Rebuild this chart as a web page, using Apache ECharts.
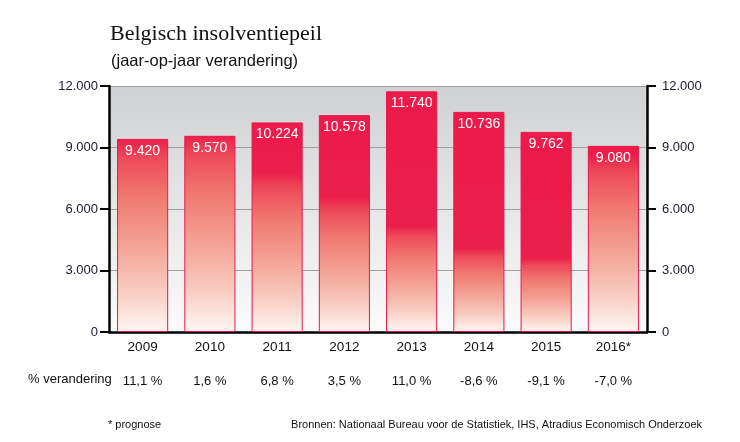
<!DOCTYPE html>
<html>
<head>
<meta charset="utf-8">
<script src="https://cdn.jsdelivr.net/npm/echarts@6/dist/echarts.min.js"></script>
<style>html,body{margin:0;padding:0;background:#fff}#c{width:740px;height:442px}</style>
</head>
<body>
<div id="c"></div>
<script>
const years = ['2009','2010','2011','2012','2013','2014','2015','2016*'];
const insolvencies = [9420, 9570, 10224, 10578, 11740, 10736, 9762, 9080];
const pctChange = ['11,1 %','1,6 %','6,8 %','3,5 %','11,0 %','-8,6 %','-9,1 %','-7,0 %'];
const yTicks = [0, 3000, 6000, 9000, 12000];

// style: fraction of each bar (from top) that stays solid red before fading
const fadeStart = [0, 0, 0.24, 0.38, 0.56, 0.62, 0.63, 0.05];

function fmt(v){ return String(v).replace(/\B(?=(\d{3})+(?!\d))/g, '.'); }

const fadeStops = [[0,'#EA1F4A'],[0.1,'#EE4A59'],[0.3,'#F07970'],[0.55,'#F4A295'],[0.8,'#F9CEC3'],[1,'#FFF7F4']];
function barGradient(f){
  const stops = [];
  if (f > 0) stops.push({offset:0, color:'#ED1A4A'});
  fadeStops.forEach(s => stops.push({offset: f + (1-f)*s[0], color: s[1]}));
  return new echarts.graphic.LinearGradient(0,0,0,1,stops);
}

const font = '"Liberation Sans",sans-serif';
const chart = echarts.init(document.getElementById('c'), null, {renderer:'canvas'});
const yAxisCommon = {
  type:'value', min:yTicks[0], max:yTicks[yTicks.length-1], interval:3000,
  axisLine:{show:true, lineStyle:{color:'#000', width:2.5}},
  axisTick:{show:true, inside:false, length:9, lineStyle:{color:'#000', width:2}},
  axisLabel:{formatter:fmt, color:'#1a1a2e', fontSize:13, fontFamily:font, margin:11},
  splitLine:{show:true, lineStyle:{color:'#9e9e9e', width:1}}
};
chart.setOption({
  animation:false,
  title:[
    {text:'Belgisch insolventiepeil', left:105, top:18, textStyle:{fontFamily:'"Liberation Serif",serif', fontWeight:'normal', fontSize:22, color:'#111'}},
    {text:'(jaar-op-jaar verandering)', left:106, top:48, textStyle:{fontFamily:font, fontWeight:'normal', fontSize:16.5, color:'#111'}}
  ],
  grid:{left:109, right:93, top:86, bottom:110, show:true, borderWidth:0,
    backgroundColor:new echarts.graphic.LinearGradient(0,0,0,1,[{offset:0,color:'#D0D1D3'},{offset:1,color:'#FBFBFB'}])},
  xAxis:[
    {type:'category', data:years, position:'bottom',
      axisLine:{show:true, lineStyle:{color:'#000', width:2.5}},
      axisTick:{show:false},
      axisLabel:{color:'#111', fontSize:13.5, fontFamily:font, margin:8}},
    {type:'category', data:pctChange, position:'bottom', offset:35,
      axisLine:{show:false}, axisTick:{show:false},
      axisLabel:{color:'#111', fontSize:13, fontFamily:font, margin:8}}
  ],
  yAxis:[
    Object.assign({}, yAxisCommon, {position:'left'}),
    Object.assign({}, yAxisCommon, {position:'right', splitLine:{show:false},
      axisLabel:{formatter:fmt, color:'#1a1a2e', fontSize:13, fontFamily:font, margin:15}})
  ],
  series:[{
    type:'bar', xAxisIndex:0, yAxisIndex:0, barCategoryGap:'24%',
    data: insolvencies.map((v,i)=>({value:v, itemStyle:{color:barGradient(fadeStart[i])}})),
    itemStyle:{borderColor:'#E8174A', borderWidth:1},
    label:{show:true, position:'insideTop', distance:5, color:'#fff', fontSize:14, fontFamily:font, formatter:p=>fmt(p.value)}
  }],
  graphic:[
    {type:'text', left:28, top:373, style:{text:'% verandering', font:'13px '+font, fill:'#111'}},
    {type:'text', left:108, top:419, style:{text:'* prognose', font:'11px '+font, fill:'#111'}},
    {type:'text', right:38, top:419, style:{text:'Bronnen: Nationaal Bureau voor de Statistiek, IHS, Atradius Economisch Onderzoek', font:'11px '+font, fill:'#111'}}
  ]
});
</script>
</body>
</html>
